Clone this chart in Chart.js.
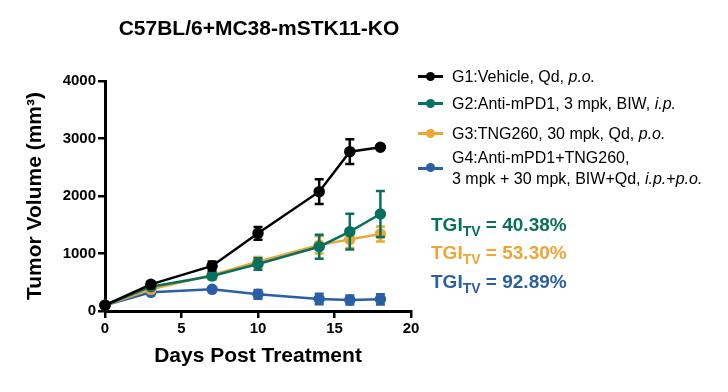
<!DOCTYPE html>
<html>
<head>
<meta charset="utf-8">
<script src="https://cdn.jsdelivr.net/npm/chart.js@4.4.1/dist/chart.umd.min.js"></script>
<style>
  html, body { margin:0; padding:0; background:#fff; }
  #wrap { position:relative; width:728px; height:392px; font-family:"Liberation Sans", Arial, sans-serif; }
  canvas { position:absolute; left:0; top:0; }
  .title { position:absolute; left:0; width:518px; top:16px; text-align:center; font-weight:bold; font-size:21px; color:#000; }
  .leg { position:absolute; left:418px; font-size:16px; color:#000; line-height:21px; }
  .leg .mk { position:absolute; left:0; width:25px; height:3px; }
  .leg .mk::after { content:""; position:absolute; left:8px; top:-3.5px; width:9px; height:9px; border-radius:50%; background:inherit; }
  .leg .tx { position:absolute; left:34px; white-space:nowrap; }
  .tgi { position:absolute; left:431px; font-size:19px; font-weight:bold; white-space:nowrap; line-height:22px; }
  .tgi sub { font-size:14px; vertical-align:-5px; line-height:0; }
</style>
</head>
<body>
<div id="wrap">
  <canvas id="c" width="728" height="392"></canvas>
  <div class="title" id="title"></div>
  <div id="legend"></div>
  <div id="tgi"></div>
</div>
<script>
const chartTitle = "C57BL/6+MC38-mSTK11-KO";
const xTitle = "Days Post Treatment";
const yTitle = "Tumor Volume (mm³)";
const days = [0, 3, 7, 10, 14, 16, 18];
const g1Mean = [100, 464, 783, 1351, 2075, 2771, 2847];
const g1Err  = [20, 45, 80, 110, 215, 215, 40];
const g2Mean = [100, 423, 609, 817, 1118, 1380, 1687];
const g2Err  = [15, 40, 55, 100, 210, 310, 400];
const g3Mean = [100, 377, 626, 858, 1148, 1246, 1339];
const g3Err  = [15, 35, 50, 80, 150, 150, 130];
const g4Mean = [100, 325, 377, 290, 209, 191, 203];
const g4Err  = [10, 25, 25, 75, 90, 80, 90];
const groupLabels = [
  ["G1:Vehicle, Qd, <i>p.o.</i>"],
  ["G2:Anti-mPD1, 3 mpk, BIW, <i>i.p.</i>"],
  ["G3:TNG260, 30 mpk, Qd, <i>p.o.</i>"],
  ["G4:Anti-mPD1+TNG260,", "3 mpk + 30 mpk, BIW+Qd, <i>i.p.</i>+<i>p.o.</i>"]
];
const groupColors = ["#000000", "#08705e", "#eda535", "#2a5fa5"];
const tgiValues = ["40.38%", "53.30%", "92.89%"];

const means = [g1Mean, g2Mean, g3Mean, g4Mean];
const errs = [g1Err, g2Err, g3Err, g4Err];

document.getElementById('title').textContent = chartTitle;

// Legend
const legTops = [66, 93, 123, 147];
const leg = document.getElementById('legend');
groupLabels.forEach((lines, i) => {
  const d = document.createElement('div');
  d.className = 'leg';
  d.style.top = legTops[i] + 'px';
  const h = lines.length * 21;
  d.innerHTML = '<div class="mk" style="background:' + groupColors[i] + ';top:' + (h/2 - 1.5) + 'px"></div>' +
    '<div class="tx">' + lines.join('<br>') + '</div>';
  leg.appendChild(d);
});
// TGI
const tgiTops = [214, 242, 271];
const tg = document.getElementById('tgi');
tgiValues.forEach((v, i) => {
  const d = document.createElement('div');
  d.className = 'tgi';
  d.style.top = tgiTops[i] + 'px';
  d.style.color = groupColors[i + 1];
  d.innerHTML = 'TGI<sub>TV</sub> = ' + v;
  tg.appendChild(d);
});

const errorBars = {
  id: 'errorBars',
  afterDatasetDraw(chart, args) {
    const ds = chart.data.datasets[args.index];
    const ctx = chart.ctx;
    const ys = chart.scales.y;
    ctx.save();
    ctx.strokeStyle = ds.borderColor;
    ctx.lineWidth = 2.5;
    args.meta.data.forEach((pt, i) => {
      const v = ds.data[i].y, e = ds.errors[i];
      const yt = ys.getPixelForValue(v + e), yb = ys.getPixelForValue(v - e);
      const x = pt.x;
      ctx.beginPath();
      ctx.moveTo(x, yt); ctx.lineTo(x, yb);
      ctx.moveTo(x - 4.5, yt); ctx.lineTo(x + 4.5, yt);
      ctx.moveTo(x - 4.5, yb); ctx.lineTo(x + 4.5, yb);
      ctx.stroke();
    });
    ctx.restore();
  }
};

const datasets = means.map((m, i) => ({
  label: groupLabels[i].join(' ').replace(/<[^>]+>/g, ''),
  data: days.map((d, j) => ({ x: d, y: m[j] })),
  errors: errs[i],
  borderColor: groupColors[i],
  backgroundColor: groupColors[i],
  borderWidth: 2.5,
  pointRadius: 4.5,
  pointHoverRadius: 4.5,
  clip: false,
  tension: 0
}));

const tickFont = { family: "'Liberation Sans', Arial, sans-serif", size: 15, weight: 'bold' };
const titleFont = { family: "'Liberation Sans', Arial, sans-serif", size: 21, weight: 'bold' };

new Chart(document.getElementById('c'), {
  type: 'line',
  data: { datasets },
  plugins: [errorBars],
  options: {
    responsive: false,
    animation: false,
    events: [],
    layout: { padding: { left: 0, top: 81, right: 317, bottom: 0 } },
    plugins: { legend: { display: false }, tooltip: { enabled: false } },
    scales: {
      x: {
        type: 'linear', min: 0, max: 20,
        ticks: { stepSize: 5, color: '#000', font: tickFont, padding: 2, maxRotation: 0, callback: v => String(v) },
        grid: { drawOnChartArea: false, drawTicks: true, tickLength: 7, color: '#000', lineWidth: 2.5 },
        border: { display: true, color: '#000', width: 3 },
        title: { display: true, text: xTitle, color: '#000', font: titleFont, padding: { top: 0, bottom: 23 } },
        afterFit(s) { s.height = 81; }
      },
      y: {
        type: 'linear', min: 0, max: 4000,
        ticks: { stepSize: 1000, color: '#000', font: tickFont, padding: 2, callback: v => String(v) },
        grid: { drawOnChartArea: false, drawTicks: true, tickLength: 7, color: '#000', lineWidth: 2.5 },
        border: { display: true, color: '#000', width: 3 },
        title: { display: true, text: yTitle, color: '#000', font: titleFont, padding: { top: 23, bottom: 0 } },
        afterFit(s) { s.width = 105; }
      }
    }
  }
});
</script>
</body>
</html>
